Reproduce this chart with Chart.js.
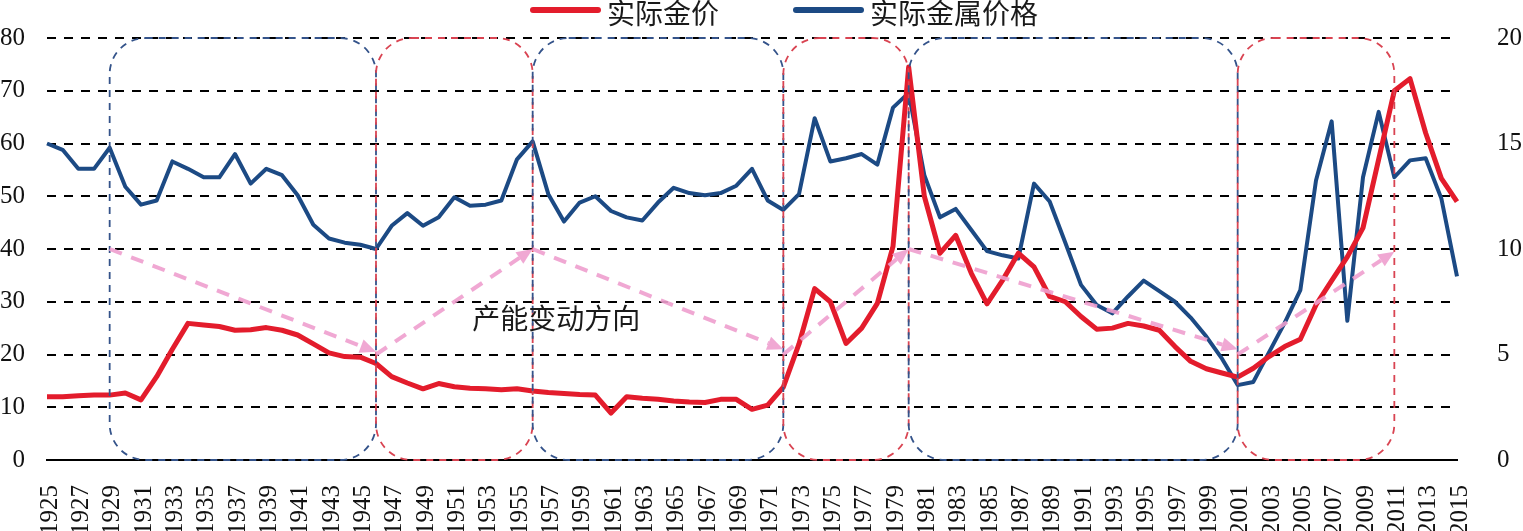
<!DOCTYPE html>
<html>
<head>
<meta charset="utf-8">
<script src="https://cdn.jsdelivr.net/npm/chart.js@4.4.0/dist/chart.umd.min.js"></script>
<style>
  html, body { margin: 0; padding: 0; background: #fff; }
</style>
</head>
<body>
<canvas id="goldChart" width="1523" height="531"></canvas>
<script>
// years on the x axis, 1925-2015
const years = [];
for (let yr = 1925; yr <= 2015; yr++) years.push(String(yr));

// real gold price (left axis)
const goldPrice = [
  12.0, 12.0, 12.2, 12.3, 12.3, 12.7, 11.4, 15.8, 21.0, 25.9,
  25.6, 25.3, 24.6, 24.7, 25.1, 24.6, 23.7, 22.0, 20.3, 19.6,
  19.5, 18.3, 15.8, 14.6, 13.5, 14.5, 13.9, 13.6, 13.5, 13.3,
  13.5, 13.1, 12.8, 12.6, 12.4, 12.3, 8.9, 12.0, 11.7, 11.5,
  11.2, 11.0, 10.9, 11.5, 11.5, 9.6, 10.4, 13.8, 22.0, 32.5,
  30.0, 22.1, 25.0, 29.7, 40.5, 74.5, 50.0, 39.2, 42.6, 35.4,
  29.6, 34.1, 39.2, 36.6, 31.0, 30.0, 27.2, 24.8, 25.0, 25.9,
  25.4, 24.6, 21.5, 18.7, 17.3, 16.5, 15.7, 17.4, 19.6, 21.5,
  22.9, 29.4, 34.0, 38.5, 44.0, 57.0, 70.0, 72.3, 62.0, 53.4,
  49.0
];

// real metal price index (right axis)
const metalPrice = [
  15.0, 14.7, 13.8, 13.8, 14.8, 12.95, 12.1, 12.3, 14.15, 13.8,
  13.4, 13.4, 14.5, 13.1, 13.8, 13.5, 12.55, 11.15, 10.5, 10.3,
  10.2, 10.0, 11.1, 11.7, 11.1, 11.5, 12.45, 12.05, 12.1, 12.3,
  14.25, 15.1, 12.6, 11.3, 12.2, 12.5, 11.8, 11.5, 11.35, 12.2,
  12.9, 12.65, 12.55, 12.65, 13.0, 13.8, 12.3, 11.85, 12.6, 16.2,
  14.15, 14.3, 14.5, 14.0, 16.7, 17.4, 13.5, 11.5, 11.9, 10.9,
  9.9, 9.7, 9.55, 13.1, 12.25, 10.3, 8.3, 7.35, 6.95, 7.75,
  8.5, 8.0, 7.5, 6.75, 5.85, 4.8, 3.55, 3.7, 5.1, 6.5,
  8.05, 13.25, 16.05, 6.6, 13.4, 16.5, 13.4, 14.2, 14.3, 12.4,
  8.7
];

const leftTicks = [0, 10, 20, 30, 40, 50, 60, 70, 80];
const rightTicks = [0, 5, 10, 15, 20];

// capacity cycles (dashed boxes): which price led each period
const periodStart = [1929, 1946, 1956, 1972, 1980, 2001];
const periodEnd   = [1946, 1956, 1972, 1980, 2001, 2011];
const periodLead  = ['metal', 'gold', 'metal', 'gold', 'metal', 'gold'];

// capacity direction arrows (year, left-axis value)
const arrowFromYear = [1929, 1946, 1956, 1972, 1980, 2001];
const arrowFromVal  = [40, 20, 40, 20, 40, 20];
const arrowToYear   = [1946, 1956, 1972, 1980, 2001, 2011];
const arrowToVal    = [20.5, 40, 21, 40, 21, 39.5];

const noteText = '产能变动方向';
const noteYear = 1957.5;
const noteVal = 26.8;

const numFont = { family: '"Liberation Serif", "Times New Roman", serif', size: 25 };
const clear = 'rgba(0,0,0,0)';

const overlayPlugin = {
  id: 'overlay',
  afterDatasetsDraw(chart) {
    const { ctx, scales } = chart;
    const x = scales.x, y = scales.y;
    const px = yr => x.getPixelForValue(yr - 1925);
    const top = y.getPixelForValue(80), bottom = y.getPixelForValue(0);

    ctx.save();
    // rounded dashed boxes
    ctx.lineWidth = 1.8;
    ctx.setLineDash([7, 6]);
    periodStart.forEach((s, i) => {
      const x0 = px(s), x1 = px(periodEnd[i]);
      ctx.strokeStyle = periodLead[i] === 'gold' ? '#d94452' : '#34538a';
      ctx.beginPath();
      ctx.roundRect(x0, top, x1 - x0, bottom - top, 36);
      ctx.stroke();
    });

    // pink arrows
    const pink = 'rgba(238,158,206,0.9)';
    arrowFromYear.forEach((fy, i) => {
      const x0 = px(fy), y0 = y.getPixelForValue(arrowFromVal[i]);
      const x1 = px(arrowToYear[i]), y1 = y.getPixelForValue(arrowToVal[i]);
      const ang = Math.atan2(y1 - y0, x1 - x0);
      const head = 16;
      const xe = x1 - Math.cos(ang) * head, ye = y1 - Math.sin(ang) * head;
      ctx.strokeStyle = pink;
      ctx.lineWidth = 4;
      ctx.setLineDash([13, 10]);
      ctx.beginPath();
      ctx.moveTo(x0, y0);
      ctx.lineTo(xe, ye);
      ctx.stroke();
      ctx.setLineDash([]);
      ctx.fillStyle = pink;
      ctx.beginPath();
      ctx.moveTo(x1, y1);
      ctx.lineTo(xe + Math.sin(ang) * 7, ye - Math.cos(ang) * 7);
      ctx.lineTo(xe - Math.sin(ang) * 7, ye + Math.cos(ang) * 7);
      ctx.closePath();
      ctx.fill();
    });

    // annotation
    ctx.fillStyle = '#1a1a1a';
    ctx.font = '28px "Noto Sans CJK SC"';
    ctx.textAlign = 'center';
    ctx.textBaseline = 'middle';
    ctx.fillText(noteText, px(noteYear), y.getPixelForValue(noteVal));
    ctx.restore();
  },
  afterDraw(chart) {
    // legend across the top
    const { ctx } = chart;
    ctx.save();
    ctx.font = '28px "Noto Sans CJK SC"';
    ctx.textBaseline = 'middle';
    ctx.textAlign = 'left';
    let cx = 533;
    chart.data.datasets.forEach(ds => {
      ctx.strokeStyle = ds.borderColor;
      ctx.lineWidth = 6;
      ctx.lineCap = 'round';
      ctx.beginPath();
      ctx.moveTo(cx, 10);
      ctx.lineTo(cx + 65, 10);
      ctx.stroke();
      ctx.fillStyle = '#1a1a1a';
      ctx.fillText(ds.label, cx + 74, 13);
      cx += 74 + ctx.measureText(ds.label).width + 77;
    });
    ctx.restore();
  }
};

const ctx = document.getElementById('goldChart').getContext('2d');

new Chart(ctx, {
  type: 'line',
  data: {
    labels: years,
    datasets: [
      {
        label: '实际金价',
        data: goldPrice,
        yAxisID: 'y',
        borderColor: '#e31c2c',
        borderWidth: 5,
        pointRadius: 0,
        borderJoinStyle: 'round',
        order: 0
      },
      {
        label: '实际金属价格',
        data: metalPrice,
        yAxisID: 'y2',
        borderColor: '#1c4a84',
        borderWidth: 4,
        pointRadius: 0,
        borderJoinStyle: 'round',
        order: 1
      }
    ]
  },
  options: {
    responsive: false,
    animation: false,
    devicePixelRatio: 1,
    layout: { padding: { top: 38, left: 0, right: 0, bottom: 0 } },
    plugins: {
      legend: { display: false },
      tooltip: { enabled: false }
    },
    scales: {
      x: {
        grid: { display: false },
        border: { display: true, color: '#000', width: 2 },
        ticks: {
          autoSkip: false,
          minRotation: 90,
          maxRotation: 90,
          padding: 17,
          labelOffset: 3,
          color: '#111',
          font: numFont,
          callback: (v, i) => (i % 2 === 0 ? years[i] : '')
        },
        afterFit: s => { s.height = 71; }
      },
      y: {
        position: 'left',
        min: 0,
        max: 80,
        afterBuildTicks: s => { s.ticks = leftTicks.map(v => ({ value: v })); },
        // tick marks are invisible; their length sets the label gap
        grid: { color: '#000', lineWidth: 2, drawTicks: true, tickLength: 22, tickColor: clear },
        border: { display: false, dash: [9, 8] },
        ticks: { padding: 0, color: '#111', font: numFont },
        afterFit: s => { s.width = 47; }
      },
      y2: {
        position: 'right',
        min: 0,
        max: 20,
        afterBuildTicks: s => { s.ticks = rightTicks.map(v => ({ value: v })); },
        grid: { display: true, drawOnChartArea: false, drawTicks: true, tickLength: 40, tickColor: clear, color: clear },
        border: { display: false },
        ticks: { padding: 0, color: '#111', font: numFont },
        afterFit: s => { s.width = 66; }
      }
    }
  },
  plugins: [overlayPlugin]
});
</script>
</body>
</html>
